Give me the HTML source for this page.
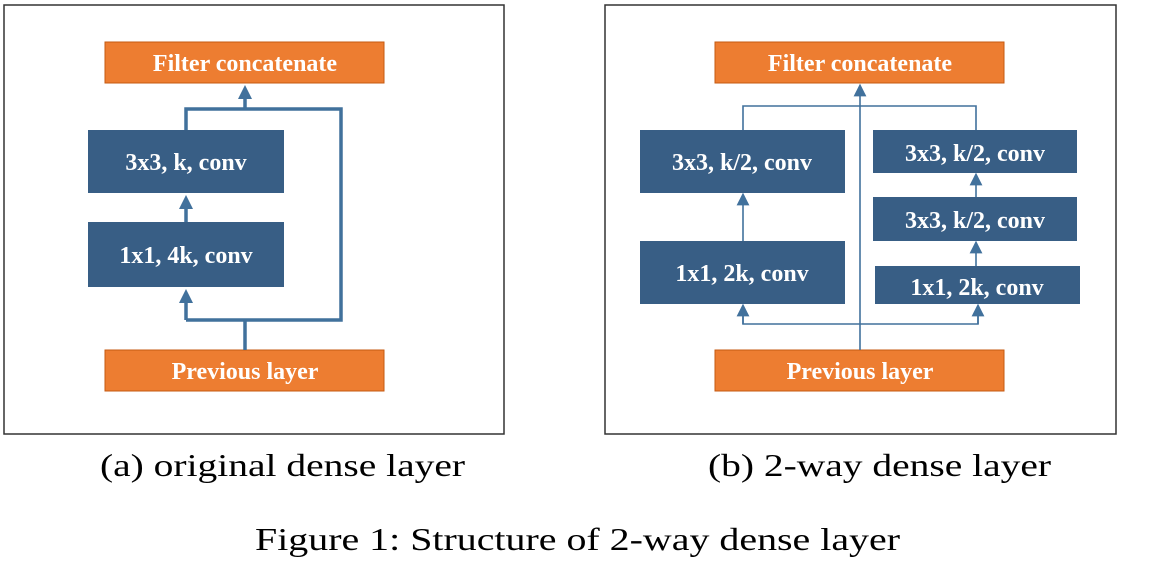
<!DOCTYPE html>
<html><head><meta charset="utf-8"><style>
html,body{margin:0;padding:0;background:#fff;width:1160px;height:561px;overflow:hidden}
</style></head><body>
<svg width="1160" height="561" viewBox="0 0 1160 561" xmlns="http://www.w3.org/2000/svg">
<defs>
<marker id="ah" markerWidth="4" markerHeight="4" refX="2" refY="2" orient="auto" markerUnits="strokeWidth"><path d="M0,0 L4,2 L0,4 z" fill="#41719C"/></marker>
<marker id="ah2" markerWidth="8" markerHeight="8" refX="4" refY="4" orient="auto" markerUnits="strokeWidth"><path d="M0,0 L8,4 L0,8 z" fill="#41719C"/></marker>
</defs>
<rect x="4" y="5" width="500" height="429" fill="none" stroke="#333" stroke-width="1.5"/>
<rect x="605" y="5" width="511" height="429" fill="none" stroke="#333" stroke-width="1.5"/>
<g font-family="'Liberation Serif', serif" font-weight="bold" fill="#fff" text-anchor="middle" font-size="24">
<rect x="105" y="42" width="279" height="41" fill="#ED7D31" stroke="#C55A11"/>
<text x="245" y="71">Filter concatenate</text>
<rect x="88" y="130" width="196" height="63" fill="#385E85"/>
<text x="186" y="170">3x3, k, conv</text>
<rect x="88" y="222" width="196" height="65" fill="#385E85"/>
<text x="186" y="263">1x1, 4k, conv</text>
<rect x="105" y="350" width="279" height="41" fill="#ED7D31" stroke="#C55A11"/>
<text x="245" y="379">Previous layer</text>
<rect x="715" y="42" width="289" height="41" fill="#ED7D31" stroke="#C55A11"/>
<text x="860" y="71">Filter concatenate</text>
<rect x="640" y="130" width="205" height="63" fill="#385E85"/>
<text x="742" y="170">3x3, k/2, conv</text>
<rect x="640" y="241" width="205" height="63" fill="#385E85"/>
<text x="742" y="281">1x1, 2k, conv</text>
<rect x="873" y="130" width="204" height="43" fill="#385E85"/>
<text x="975" y="161">3x3, k/2, conv</text>
<rect x="873" y="197" width="204" height="44" fill="#385E85"/>
<text x="975" y="228">3x3, k/2, conv</text>
<rect x="875" y="266" width="205" height="38" fill="#385E85"/>
<text x="977" y="295">1x1, 2k, conv</text>
<rect x="715" y="350" width="289" height="41" fill="#ED7D31" stroke="#C55A11"/>
<text x="860" y="379">Previous layer</text>
</g>
<g stroke="#41719C" fill="none">
<g stroke-width="3.5">
<polyline points="186,130 186,109 341,109 341,320 186,320"/>
<line x1="245" y1="109" x2="245" y2="92" marker-end="url(#ah)"/>
<line x1="245" y1="350" x2="245" y2="320"/>
<line x1="186" y1="320" x2="186" y2="296" marker-end="url(#ah)"/>
<line x1="186" y1="222" x2="186" y2="202" marker-end="url(#ah)"/>
</g>
<g stroke-width="1.6">
<polyline points="743,130 743,106 976,106 976,130"/>
<line x1="860" y1="350" x2="860" y2="90" marker-end="url(#ah2)"/>
<polyline points="743,310 743,324 978,324 978,310"/>
<line x1="743" y1="324" x2="743" y2="310" marker-end="url(#ah2)"/>
<line x1="978" y1="324" x2="978" y2="310" marker-end="url(#ah2)"/>
<line x1="743" y1="241" x2="743" y2="199" marker-end="url(#ah2)"/>
<line x1="976" y1="197" x2="976" y2="179" marker-end="url(#ah2)"/>
<line x1="976" y1="266" x2="976" y2="247" marker-end="url(#ah2)"/>
</g>
</g>
<g font-family="'Liberation Serif', serif" fill="#000" font-size="32">
<text x="100" y="476" textLength="365" lengthAdjust="spacingAndGlyphs">(a) original dense layer</text>
<text x="708" y="476" textLength="343" lengthAdjust="spacingAndGlyphs">(b) 2-way dense layer</text>
<text x="255" y="550" textLength="645" lengthAdjust="spacingAndGlyphs">Figure 1: Structure of 2-way dense layer</text>
</g>
</svg>
</body></html>
